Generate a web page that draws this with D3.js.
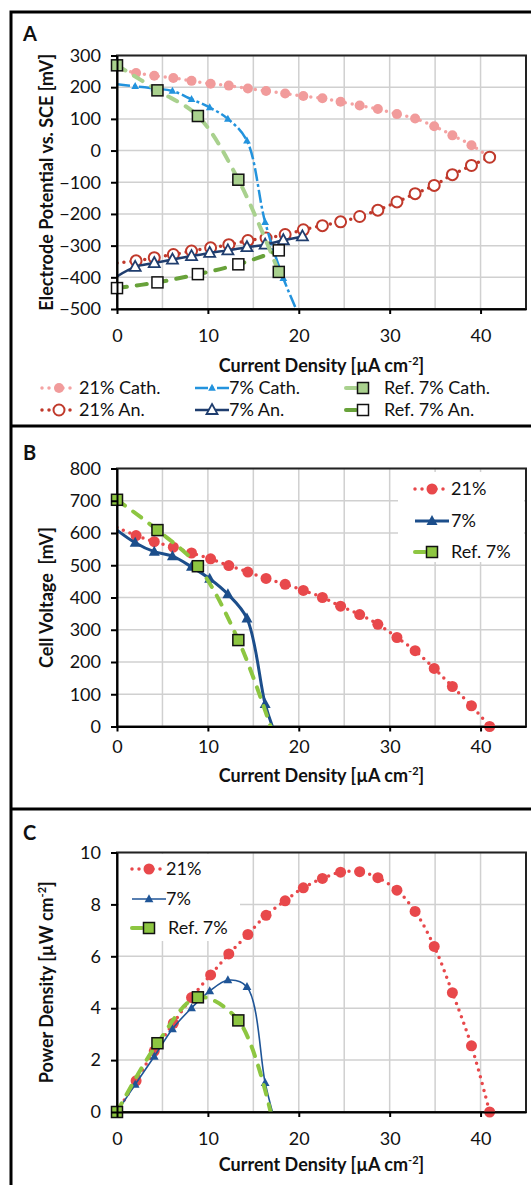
<!DOCTYPE html>
<html>
<head>
<meta charset="utf-8">
<script src="https://cdn.jsdelivr.net/npm/d3@7"></script>
<style>
  body { margin: 0; background: #fff; }
  svg text { font-family: Lato, "Open Sans", sans-serif; fill: #111; }
</style>
</head>
<body>
<svg id="fig" width="531" height="1185"></svg>
<script>
// current densities [µA cm-2]
const cur21 = [0, 2.1, 4.1, 6.2, 8.2, 10.3, 12.3, 14.4, 16.4, 18.5, 20.5, 22.6, 24.6, 26.7, 28.7, 30.8, 32.8, 34.9, 36.9, 39.0, 41.0];
const cur7 = [0, 2.0, 4.1, 6.1, 8.2, 10.2, 12.2, 14.3, 16.3, 18.3, 20.4];
const cur7Cell = [0, 2.0, 4.1, 6.1, 8.2, 10.2, 12.2, 14.3, 16.3, 17.1];
const curRef = [0, 4.45, 8.9, 13.35, 17.8];
const curRefCell = [0, 4.45, 8.9, 13.35, 16.9];

// A: electrode potentials [mV]
const pot21Cath = [259, 245, 236, 229, 220, 211, 205, 196, 188, 180, 172, 165, 154, 142, 131, 115, 101, 77, 48, 17, -21];
const pot21An = [-355, -348, -338, -328, -317, -307, -297, -284, -276, -265, -250, -237, -225, -208, -188, -162, -136, -110, -76, -47, -21];
const pot7Cath = [209, 203, 196, 188, 162, 136, 100, 31, -226, -403, -545];
const pot7An = [-397, -367, -355, -344, -333, -323, -315, -305, -297, -283, -271];
const potRefCath = [269, 190, 109, -92, -383];
const potRefAn = [-434, -416, -390, -359, -315];

// B: cell voltage [mV]
const volt21 = [617, 592, 573, 556, 538, 520, 499, 479, 459, 441, 422, 400, 373, 347, 317, 276, 235, 180, 124, 64, 0];
const volt7 = [609, 570, 542, 528, 495, 458, 410, 335, 70, 0];
const voltRef = [703, 609, 497, 268, 0];

// C: power density [µW cm-2]
const pow21 = [0, 1.2, 2.35, 3.42, 4.41, 5.28, 6.09, 6.84, 7.58, 8.14, 8.64, 9.0, 9.24, 9.26, 9.03, 8.55, 7.73, 6.38, 4.6, 2.55, 0];
const pow7 = [0, 1.06, 2.14, 3.2, 4.01, 4.66, 5.08, 4.82, 1.13, 0];
const powRef = [0, 2.65, 4.42, 3.53, 0];

const xTicks = [0, 10, 20, 30, 40];
const yTicksA = [300, 200, 100, 0, -100, -200, -300, -400, -500];
const yTicksB = [0, 100, 200, 300, 400, 500, 600, 700, 800];
const yTicksC = [0, 2, 4, 6, 8, 10];
const legendA = ['21% Cath.', '7% Cath.', 'Ref. 7% Cath.', '21% An.', '7% An.', 'Ref. 7% An.'];
const legendBC = ['21%', '7%', 'Ref. 7%'];

const svg = d3.select('#fig');
const xScale = d3.scaleLinear().domain([0, 45]).range([117, 526]);

// outer frame of the three panels (right side runs off the picture)
svg.append('rect').attr('x', 11).attr('y', 12).attr('width', 560).attr('height', 1300)
    .attr('fill', 'none').attr('stroke', '#000').attr('stroke-width', 3);
[426, 809].forEach(yy => {
    svg.append('line').attr('x1', 11).attr('x2', 531).attr('y1', yy).attr('y2', yy)
        .attr('stroke', '#000').attr('stroke-width', 3);
});

const dotted = {width: 3.5, dash: '0 7', cap: 'round'};
const longDash = {width: 4, dash: '10 10', cap: 'round'};

function drawMarker(g, s, px, py) {
    if (s.marker === 'circle') {
        g.append('circle').attr('cx', px).attr('cy', py).attr('r', s.msize)
            .attr('fill', s.mfill).attr('stroke', s.mstroke).attr('stroke-width', s.mstrokeW || 0);
    } else if (s.marker === 'triangle') {
        const h = s.msize;
        const pts = [[0, -h * 0.6], [h * 0.55, h * 0.4], [-h * 0.55, h * 0.4]]
            .map(p => (px + p[0]) + ',' + (py + p[1])).join(' ');
        g.append('polygon').attr('points', pts)
            .attr('fill', s.mfill).attr('stroke', s.mstroke).attr('stroke-width', s.mstrokeW || 0)
            .attr('stroke-linejoin', 'miter');
    } else if (s.marker === 'square') {
        const a = s.msize;
        g.append('rect').attr('x', px - a / 2).attr('y', py - a / 2).attr('width', a).attr('height', a)
            .attr('fill', s.mfill).attr('stroke', s.mstroke).attr('stroke-width', s.mstrokeW || 0);
    }
}

function styleLine(sel, s) {
    sel.attr('fill', 'none').attr('stroke', s.color).attr('stroke-width', s.line.width)
        .attr('stroke-dasharray', s.line.dash || null)
        .attr('stroke-linecap', s.line.cap || 'butt');
}

function drawPanel(p) {
    const y = d3.scaleLinear().domain(p.yDomain).range([p.bottom, p.top]);
    const g = svg.append('g');
    const left = xScale(0), right = xScale(45);

    // grid
    d3.range(5, 45, 5).forEach(v => {
        g.append('line').attr('x1', xScale(v)).attr('x2', xScale(v)).attr('y1', p.top).attr('y2', p.bottom)
            .attr('stroke', '#d0d0d0').attr('stroke-width', 1.5);
    });
    p.yTicks.forEach(v => {
        g.append('line').attr('x1', left).attr('x2', right).attr('y1', y(v)).attr('y2', y(v))
            .attr('stroke', '#d0d0d0').attr('stroke-width', 1.5);
    });

    // legend background inside the plot
    if (p.legendBox) {
        g.append('rect').attr('x', p.legendBox[0]).attr('y', p.legendBox[1])
            .attr('width', p.legendBox[2]).attr('height', p.legendBox[3]).attr('fill', '#fff');
    }

    // plot border
    g.append('rect').attr('x', left).attr('y', p.top).attr('width', right - left).attr('height', p.bottom - p.top)
        .attr('fill', 'none').attr('stroke', '#222').attr('stroke-width', 2);

    const clipId = 'clip' + p.name;
    svg.append('clipPath').attr('id', clipId).append('rect')
        .attr('x', left).attr('y', p.top).attr('width', right - left).attr('height', p.bottom - p.top);

    const line = d3.line().x(d => xScale(d[0])).y(d => y(d[1])).curve(d3.curveCatmullRom.alpha(0.5));

    p.series.forEach(s => {
        const pts = s.x.map((v, i) => [v, s.y[i]]);
        styleLine(g.append('path').datum(pts).attr('d', line).attr('clip-path', `url(#${clipId})`), s);
        pts.forEach((d, i) => {
            if ((s.skip || []).includes(i)) return;
            if (d[1] < p.yDomain[0] || d[1] > p.yDomain[1]) return;
            drawMarker(g, s, xScale(d[0]), y(d[1]));
        });
    });

    // axes
    const ya = g.append('g').attr('transform', `translate(${left},0)`)
        .call(d3.axisLeft(y).tickValues(p.yTicks).tickSize(6).tickSizeOuter(0).tickPadding(10));
    const xa = g.append('g').attr('transform', `translate(0,${p.bottom})`)
        .call(d3.axisBottom(xScale).tickValues(xTicks).tickSize(5).tickSizeOuter(0).tickPadding(p.xPad));
    [ya, xa].forEach(a => {
        a.select('.domain').attr('stroke', '#000').attr('stroke-width', 2);
        a.selectAll('.tick line').attr('stroke', '#000').attr('stroke-width', 2);
        a.selectAll('.tick text').attr('font-size', 18).attr('fill', '#111')
            .style('font-family', 'Lato, "Open Sans", sans-serif');
    });

    // titles
    const xt = g.append('text').attr('x', (left + right) / 2).attr('y', p.bottom + p.xTitleOff)
        .attr('text-anchor', 'middle').attr('font-size', 18).attr('font-weight', 'bold');
    xt.append('tspan').text('Current Density [µA cm');
    xt.append('tspan').attr('font-size', 11).attr('dy', -7).text('-2');
    xt.append('tspan').attr('dy', 7).text(']');

    const yt = g.append('text').attr('transform', `translate(47,${(p.top + p.bottom) / 2}) rotate(-90)`)
        .attr('text-anchor', 'middle').attr('dy', '0.35em').attr('font-size', 18).attr('font-weight', 'bold')
        .style('white-space', 'pre');
    yt.append('tspan').text(p.yTitle[0]);
    if (p.yTitle.length > 1) {
        yt.append('tspan').attr('font-size', 11).attr('dy', -7).text(p.yTitle[1]);
        yt.append('tspan').attr('dy', 7).text(p.yTitle[2]);
    }

    g.append('text').attr('x', 23).attr('y', p.letterY).attr('font-size', 20).attr('font-weight', 'bold')
        .text(p.name);

    // legend
    p.legend.forEach(item => {
        const s = item.s;
        const cy = item.y;
        const x0 = item.x, x1 = item.x + 34, cx = item.x + 17;
        const kx1 = s.marker === 'square' ? cx : x1;
        styleLine(g.append('line').attr('x1', x0).attr('x2', kx1).attr('y1', cy).attr('y2', cy), s);
        drawMarker(g, s, cx, cy);
        g.append('text').attr('x', item.tx).attr('y', cy).attr('dy', '0.35em').attr('font-size', 18)
            .text(item.label);
    });
}

// ---------- panel A ----------
const sA21C = {x: cur21, y: pot21Cath, color: '#F4A3A3', line: dotted, marker: 'circle', msize: 5, mfill: '#F19B9B', mstroke: 'none', skip: [0]};
const sA21A = {x: cur21, y: pot21An, color: '#C0392B', line: dotted, marker: 'circle', msize: 5.5, mfill: '#fff', mstroke: '#C0392B', mstrokeW: 2, skip: [0]};
const sA7C = {x: cur7, y: pot7Cath, color: '#2393DD', line: {width: 2.5, dash: '13 3 3 3'}, marker: 'triangle', msize: 7, mfill: '#2393DD', mstroke: 'none', skip: [0]};
const sA7A = {x: cur7, y: pot7An, color: '#1F3D6E', line: {width: 2.5}, marker: 'triangle', msize: 10, mfill: '#fff', mstroke: '#1F3D6E', mstrokeW: 1.8, skip: [0]};
const sARC = {x: curRef, y: potRefCath, color: '#A9D18E', line: longDash, marker: 'square', msize: 11, mfill: '#A9D18E', mstroke: '#111', mstrokeW: 1.5};
const sARA = {x: curRef, y: potRefAn, color: '#68A23A', line: longDash, marker: 'square', msize: 11, mfill: '#fff', mstroke: '#111', mstrokeW: 1.5};

drawPanel({
    name: 'A', top: 55.5, bottom: 309, yDomain: [-500, 300], yTicks: yTicksA, letterY: 41,
    xPad: 15, xTitleOff: 63, yTitle: ['Electrode Potential vs. SCE [mV]'],
    series: [sA21C, sA21A, sA7C, sA7A, sARC, sARA],
    legend: [
        {s: sA21C, x: 42, y: 388, tx: 79, label: legendA[0]},
        {s: sA7C, x: 195, y: 388, tx: 229, label: legendA[1]},
        {s: sARC, x: 346, y: 388, tx: 384, label: legendA[2]},
        {s: sA21A, x: 42, y: 410, tx: 79, label: legendA[3]},
        {s: sA7A, x: 195, y: 410, tx: 229, label: legendA[4]},
        {s: sARA, x: 346, y: 410, tx: 384, label: legendA[5]}
    ]
});

// ---------- panel B ----------
const sB21 = {x: cur21, y: volt21, color: '#E8484B', line: dotted, marker: 'circle', msize: 5.5, mfill: '#E8484B', mstroke: 'none', skip: [0]};
const sB7 = {x: cur7Cell, y: volt7, color: '#1C4E8B', line: {width: 3}, marker: 'triangle', msize: 10, mfill: '#1C4E8B', mstroke: 'none', skip: [0, 9]};
const sBR = {x: curRefCell, y: voltRef, color: '#8DC641', line: longDash, marker: 'square', msize: 11, mfill: '#8DC641', mstroke: '#111', mstrokeW: 1.5, skip: [4]};

drawPanel({
    name: 'B', top: 468.5, bottom: 726.5, yDomain: [0, 800], yTicks: yTicksB, letterY: 460,
    xPad: 9, xTitleOff: 55, yTitle: ['Cell Voltage  [mV]'],
    legendBox: [398, 472, 126, 90],
    series: [sB21, sB7, sBR],
    legend: [
        {s: sB21, x: 415, y: 489, tx: 451, label: legendBC[0]},
        {s: sB7, x: 415, y: 521, tx: 451, label: legendBC[1]},
        {s: sBR, x: 415, y: 552, tx: 451, label: legendBC[2]}
    ]
});

// ---------- panel C ----------
const sC21 = {x: cur21, y: pow21, color: '#E8484B', line: dotted, marker: 'circle', msize: 5.5, mfill: '#E8484B', mstroke: 'none', skip: [0]};
const sC7 = {x: cur7Cell, y: pow7, color: '#1F5597', line: {width: 1.6}, marker: 'triangle', msize: 8, mfill: '#1F5597', mstroke: 'none', skip: [0, 9]};
const sCR = {x: curRefCell, y: powRef, color: '#8DC641', line: longDash, marker: 'square', msize: 11, mfill: '#8DC641', mstroke: '#111', mstrokeW: 1.5, skip: [4]};

drawPanel({
    name: 'C', top: 852.5, bottom: 1112, yDomain: [0, 10], yTicks: yTicksC, letterY: 840,
    xPad: 15, xTitleOff: 59, yTitle: ['Power Density [µW cm', '-2', ']'],
    legendBox: [119, 854, 121, 87],
    series: [sC21, sC7, sCR],
    legend: [
        {s: sC21, x: 132, y: 869, tx: 166, label: legendBC[0]},
        {s: sC7, x: 132, y: 899, tx: 166, label: legendBC[1]},
        {s: sCR, x: 132, y: 928, tx: 168, label: legendBC[2]}
    ]
});
</script>
</body>
</html>
